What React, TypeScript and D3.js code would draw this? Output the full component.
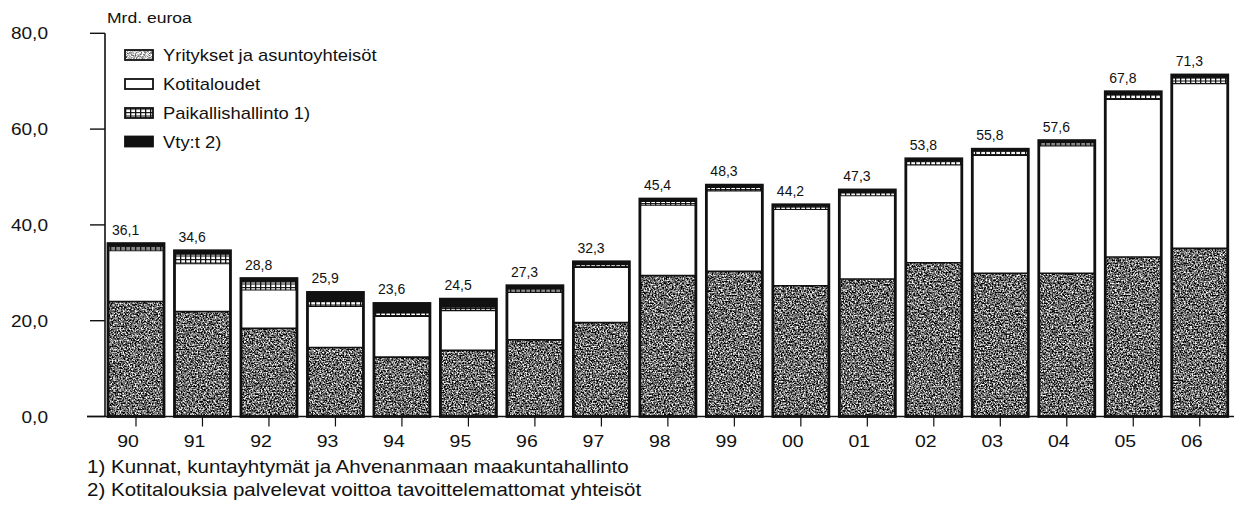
import React from "react";
import * as d3 from "d3";

const years = ["90","91","92","93","94","95","96","97","98","99","00","01","02","03","04","05","06"];
const yritykset = [24.0,21.9,18.4,14.4,12.4,13.8,16.0,19.6,29.4,30.3,27.3,28.7,32.1,29.9,29.9,33.3,35.1];
const kotitaloudet = [10.6,10.0,8.0,8.6,8.5,8.3,9.9,11.5,14.7,16.8,15.9,17.4,20.4,24.6,26.6,32.9,34.4];
const paikallishallinto = [0.8,2.0,1.7,1.0,0.7,0.7,0.7,0.6,0.8,0.7,0.6,0.7,0.8,0.9,0.7,1.0,1.2];
const vtyt = [0.7,0.7,0.7,1.9,2.0,1.7,0.7,0.6,0.5,0.5,0.4,0.5,0.5,0.4,0.4,0.6,0.6];
const totalLabels = ["36,1","34,6","28,8","25,9","23,6","24,5","27,3","32,3","45,4","48,3","44,2","47,3","53,8","55,8","57,6","67,8","71,3"];
const yTicks = [0,20,40,60,80];
const yTickLabels = ["0,0","20,0","40,0","60,0","80,0"];
const seriesKeys = ["yritykset","kotitaloudet","paikallis","vtyt"];
const legendLabels = ["Yritykset ja asuntoyhteisöt","Kotitaloudet","Paikallishallinto 1)","Vty:t 2)"];
const unitLabel = "Mrd. euroa";
const footnotes = [
  "1) Kunnat, kuntayhtymät ja Ahvenanmaan maakuntahallinto",
  "2) Kotitalouksia palvelevat voittoa tavoittelemattomat yhteisöt",
];

const FONT = "'Liberation Sans', Arial, Helvetica, sans-serif";
const INK = "#111";

function T({ x, y, size, sx = 1, anchor = "start", children }: any) {
  return (
    <text
      transform={`translate(${x},${y}) scale(${sx},1)`}
      fontSize={size}
      textAnchor={anchor}
      fontFamily={FONT}
      fill={INK}
    >
      {children}
    </text>
  );
}

export default function App() {
  const table = years.map((yr, i) => ({
    year: yr,
    yritykset: yritykset[i],
    kotitaloudet: kotitaloudet[i],
    paikallis: paikallishallinto[i],
    vtyt: vtyt[i],
  }));
  const stacked = d3.stack<any>().keys(seriesKeys)(table);

  const x = d3
    .scaleBand<string>()
    .domain(years)
    .range([102.75, 1233])
    .paddingInner(0.158)
    .paddingOuter(0.079);
  const y = d3.scaleLinear().domain([0, 80]).range([416.5, 33.3]);
  const bw = x.bandwidth();

  const fills = ["#777", "#fff", "url(#grid)", INK];

  const legendRows = [55, 84, 113, 141.5];

  return (
    <svg
      width={1234}
      height={506}
      style={{ position: "absolute", left: 0, top: 0, background: "#fff" }}
    >
      <defs>
        <filter id="grain" x="0%" y="0%" width="100%" height="100%" colorInterpolationFilters="sRGB">
          <feTurbulence type="fractalNoise" baseFrequency="0.65" numOctaves="3" seed="7" result="noise" />
          <feColorMatrix
            in="noise"
            type="matrix"
            values="2.4 0 0 0 -0.78  2.4 0 0 0 -0.78  2.4 0 0 0 -0.78  0 0 0 0 1"
            result="g"
          />
          <feComposite in="g" in2="SourceGraphic" operator="in" />
        </filter>
        <filter id="grainLight" x="0%" y="0%" width="100%" height="100%" colorInterpolationFilters="sRGB">
          <feTurbulence type="fractalNoise" baseFrequency="0.9" numOctaves="2" seed="3" result="noise" />
          <feColorMatrix
            in="noise"
            type="matrix"
            values="1.6 0 0 0 -0.05  1.6 0 0 0 -0.05  1.6 0 0 0 -0.05  0 0 0 0 1"
            result="g"
          />
          <feComposite in="g" in2="SourceGraphic" operator="in" />
        </filter>
        <pattern id="grid" width={5} height={3.5} patternUnits="userSpaceOnUse">
          <rect width={5} height={3.5} fill="#fff" />
          <rect x={0} y={0} width={1.3} height={3.5} fill={INK} />
          <rect x={0} y={0} width={5} height={1.1} fill={INK} />
        </pattern>
      </defs>

      {/* unit label */}
      <T x={107} y={23} size={15} sx={1.17}>{unitLabel}</T>

      {/* y axis */}
      <line x1={105} x2={105} y1={y(80)} y2={y(0)} stroke={INK} strokeWidth={1.6} />
      {yTicks.map((t, i) => (
        <g key={t}>
          <line x1={t === 0 ? 87 : 90} x2={105} y1={y(t)} y2={y(t)} stroke={INK} strokeWidth={1.4} />
          <T x={48} y={y(t) + 6} size={17} sx={1.12} anchor="end">{yTickLabels[i]}</T>
        </g>
      ))}

      {/* bars */}
      {years.map((yr, i) => {
        const x0 = x(yr) as number;
        const top = y(stacked[3][i][1]);
        const bottom = y(0);
        return (
          <g key={yr}>
            {stacked.map((s, si) => {
              const y0 = y(s[i][0]);
              const y1 = y(s[i][1]);
              return (
                <rect
                  key={si}
                  x={x0}
                  y={y1}
                  width={bw}
                  height={Math.max(0, y0 - y1)}
                  fill={fills[si]}
                  filter={si === 0 ? "url(#grain)" : undefined}
                />
              );
            })}
            {stacked.slice(0, 3).map((s, si) => (
              <line
                key={"b" + si}
                x1={x0}
                x2={x0 + bw}
                y1={y(s[i][1])}
                y2={y(s[i][1])}
                stroke={INK}
                strokeWidth={si === 0 ? 1.6 : 1.1}
              />
            ))}
            <rect
              x={x0}
              y={top}
              width={bw}
              height={bottom - top}
              fill="none"
              stroke={INK}
              strokeWidth={2.8}
            />
            <text
              x={x0 + 4}
              y={top - 9}
              fontSize={14}
              fontFamily={FONT}
              fill={INK}
            >
              {totalLabels[i]}
            </text>
          </g>
        );
      })}

      {/* x axis */}
      <line x1={87} x2={1234} y1={y(0)} y2={y(0)} stroke={INK} strokeWidth={1.6} />
      {years.map((yr) => {
        const cx = (x(yr) as number) + bw / 2;
        return (
          <g key={"t" + yr}>
            <line x1={cx} x2={cx} y1={y(0)} y2={y(0) + 10} stroke={INK} strokeWidth={1.2} />
            <T x={cx - 8} y={447} size={16.5} sx={1.18} anchor="middle">{yr}</T>
          </g>
        );
      })}

      {/* legend */}
      {legendLabels.map((lab, i) => {
        const cy = legendRows[i];
        return (
          <g key={lab}>
            {i === 0 ? (
              <rect x={125} y={cy - 5} width={28} height={10} fill="#bbb" filter="url(#grainLight)" />
            ) : null}
            <rect
              x={125}
              y={cy - 5}
              width={28}
              height={10}
              fill={i === 0 ? "none" : fills[i]}
              stroke={INK}
              strokeWidth={1.8}
            />
            <T x={163} y={cy + 6} size={16} sx={1.15}>{lab}</T>
          </g>
        );
      })}

      {/* footnotes */}
      {footnotes.map((f, i) => (
        <T key={i} x={87} y={473 + i * 23} size={18} sx={1.14}>{f}</T>
      ))}
    </svg>
  );
}
